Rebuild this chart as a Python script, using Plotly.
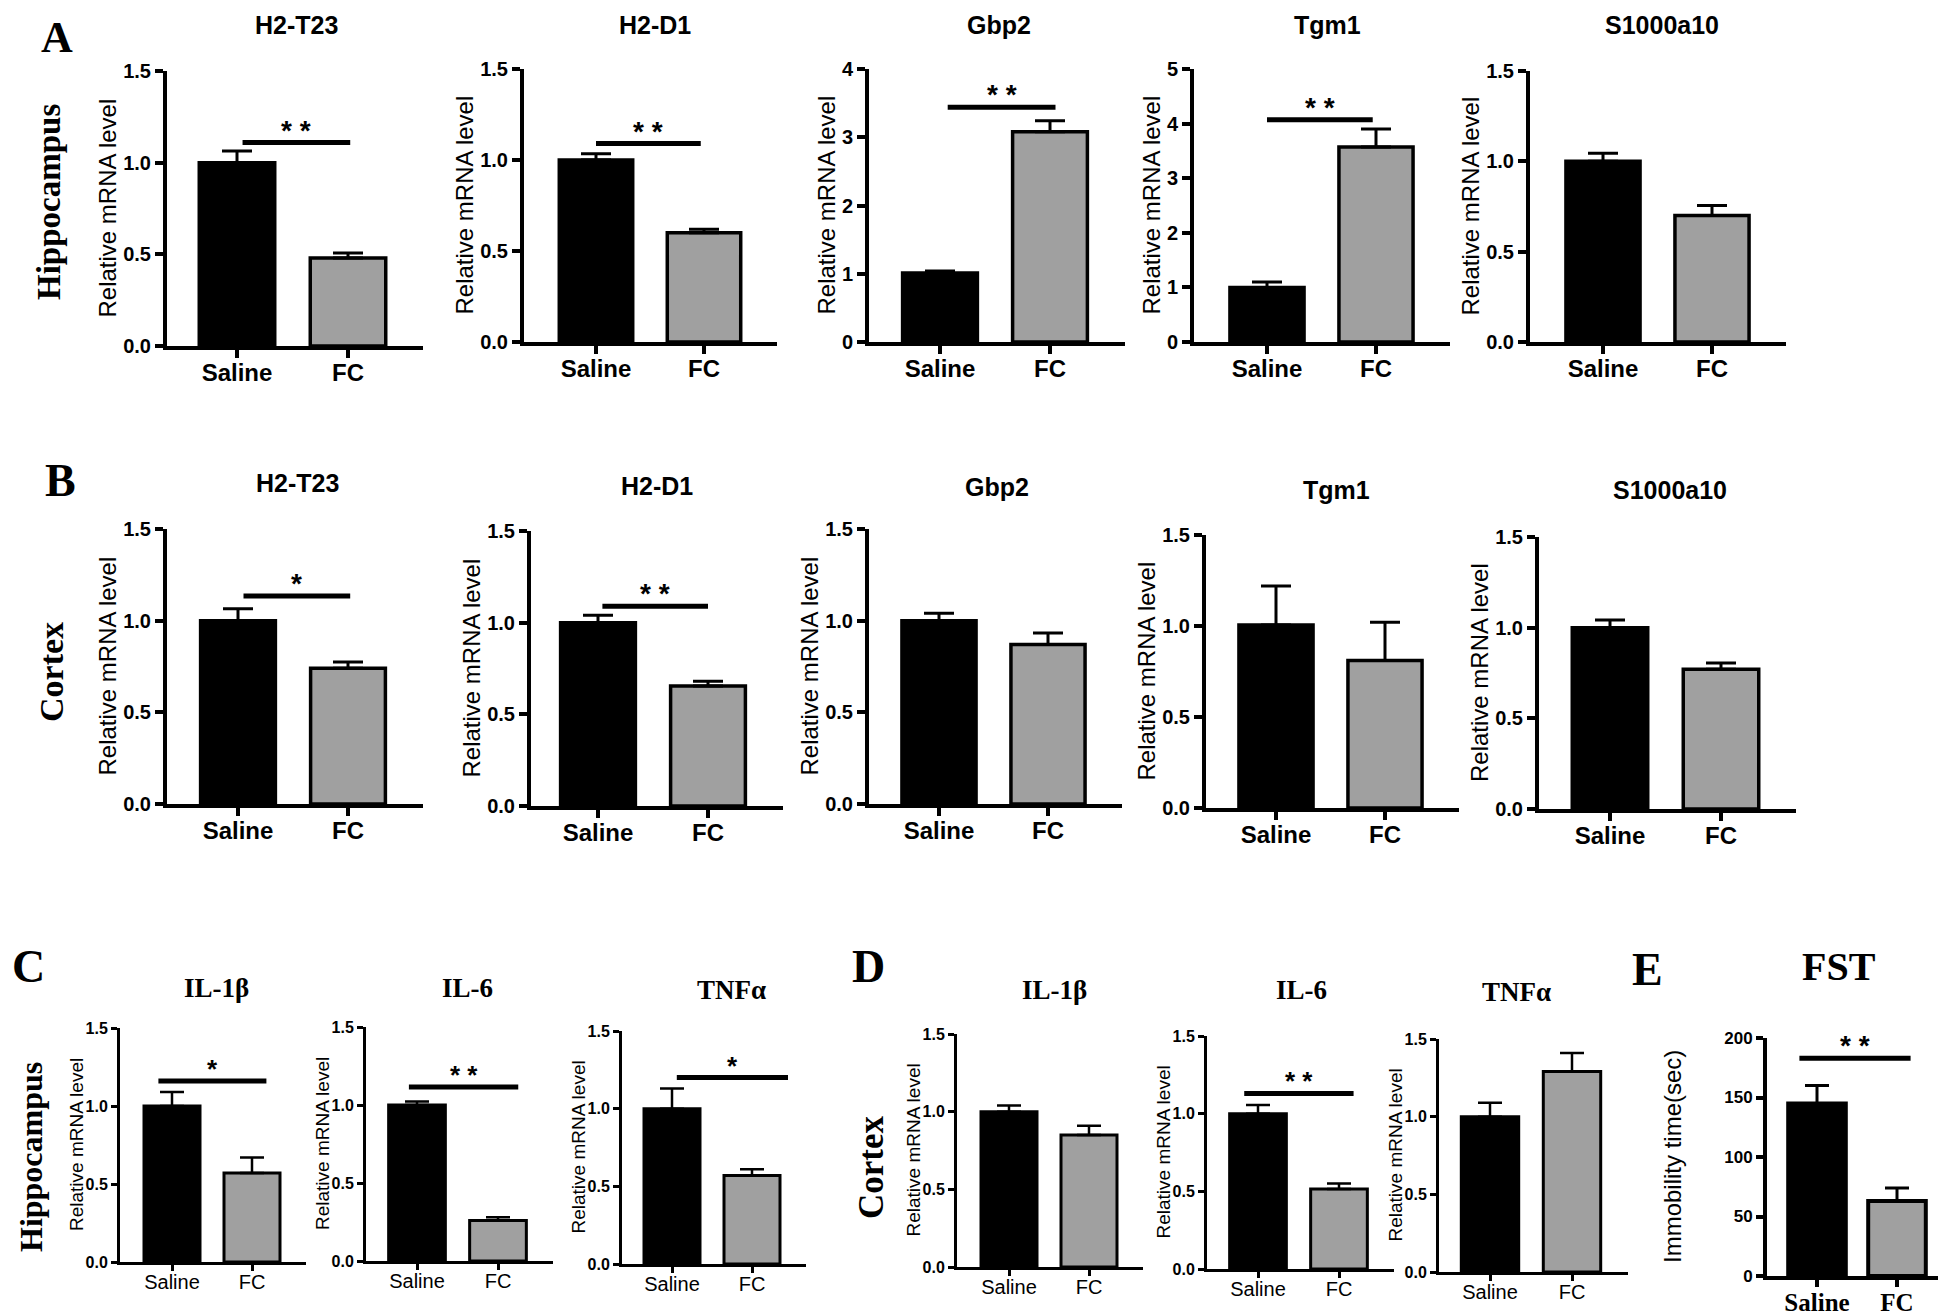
import plotly.graph_objects as go

# ---------------- data ----------------
groups = ["Saline", "FC"]

A_genes = ["H2-T23", "H2-D1", "Gbp2", "Tgm1", "S1000a10"]
A_saline = [1.00, 1.00, 1.01, 1.00, 1.00]
A_saline_err = [0.064, 0.035, 0.03, 0.10, 0.045]
A_fc = [0.48, 0.60, 3.08, 3.57, 0.70]
A_fc_err = [0.027, 0.02, 0.16, 0.33, 0.055]
A_sig = ["* *", "* *", "* *", "* *", ""]
A_sig_y = [1.11, 1.09, 3.44, 4.07, None]
A_ymax = [1.5, 1.5, 4, 5, 1.5]

B_genes = ["H2-T23", "H2-D1", "Gbp2", "Tgm1", "S1000a10"]
B_saline = [1.00, 1.00, 1.00, 1.005, 1.00]
B_saline_err = [0.065, 0.04, 0.04, 0.215, 0.042]
B_fc = [0.74, 0.655, 0.87, 0.81, 0.77]
B_fc_err = [0.035, 0.025, 0.063, 0.21, 0.035]
B_sig = ["*", "* *", "", "", ""]
B_sig_y = [1.135, 1.09, None, None, None]
B_ymax = [1.5, 1.5, 1.5, 1.5, 1.5]

C_genes = ["IL-1β", "IL-6", "TNFα"]
C_saline = [1.00, 1.00, 1.00]
C_saline_err = [0.09, 0.022, 0.13]
C_fc = [0.57, 0.26, 0.57]
C_fc_err = [0.10, 0.02, 0.04]
C_sig = ["*", "* *", "*"]
C_sig_y = [1.16, 1.115, 1.20]

D_genes = ["IL-1β", "IL-6", "TNFα"]
D_saline = [1.00, 1.00, 1.00]
D_saline_err = [0.04, 0.055, 0.09]
D_fc = [0.85, 0.515, 1.29]
D_fc_err = [0.06, 0.035, 0.12]
D_sig = ["", "* *", ""]
D_sig_y = [None, 1.13, None]

E_title = "FST"
E_saline, E_saline_err = 145, 15
E_fc, E_fc_err = 63, 11
E_sig = "* *"
E_sig_y = 183

ticks_15 = [0, 0.5, 1.0, 1.5]
ticks_15_text = ["0.0", "0.5", "1.0", "1.5"]
ticks_4 = [0, 1, 2, 3, 4]
ticks_5 = [0, 1, 2, 3, 4, 5]
ticks_E = [0, 50, 100, 150, 200]

mrna_label = "Relative mRNA level"
fst_label = "Immobility time(sec)"

# ---------------- layout geometry (pixels in 1946x1313) ----------------
W, H = 1946, 1313
DX, DY = -4, -9          # global placement correction
ROT = 9                  # rotated-annotation horizontal correction
# (y-axis x, saline centre x, FC centre x, top tick y, zero y)
geomA = [(163, 233, 344, 72, 347), (520, 592, 700, 70, 343), (865, 936, 1046, 70, 343),
         (1190, 1263, 1372, 70, 343), (1526, 1599, 1708, 72, 343)]
geomB = [(163, 234, 344, 530, 805), (527, 594, 704, 532, 807), (865, 935, 1044, 530, 805),
         (1202, 1272, 1381, 536, 809), (1535, 1606, 1717, 538, 810)]
geomC = [(116, 168, 248, 1029, 1263), (362, 413, 494, 1028, 1262), (618, 668, 748, 1032, 1265)]
geomD = [(953, 1005, 1085, 1035, 1268), (1203, 1254, 1335, 1037, 1270), (1435, 1486, 1568, 1040, 1273)]
geomE = (1763, 1813, 1893, 1039, 1277)

titleA = [(292, 26), (651, 26), (995, 26), (1323, 26), (1658, 26)]
titleB = [(293, 484), (653, 487), (993, 488), (1332, 491), (1666, 491)]
titleC = [(212, 989), (463, 989), (727, 991)]
titleD = [(1050, 991), (1297, 991), (1512, 993)]

sigxA = [(0.05, 1.02), (0.0, 0.97), (0.07, 1.05), (0.0, 0.97), None]
sigxB = [(0.05, 1.02), (0.04, 1.0), None, None, None]
sigxC = [(-0.17, 1.18), (-0.1, 1.25), (0.06, 1.45)]
sigxD = [None, (-0.17, 1.18), None]
sigxE = (-0.22, 1.17)

SANS = "Liberation Sans, Arial, sans-serif"
SERIF = "Liberation Serif, Times New Roman, serif"
GREY = "#A0A0A0"

STYLE_AB = dict(axw=4, tlen=8, ytf=dict(family=SANS, size=20, color="black", weight="bold"),
                xtf=dict(family=SANS, size=24, color="black", weight="bold"), xstand=-6,
                barline=3.5, errt=3, errw=15, bw=0.68, ytsize=24, starsize=28, sigw=5)
STYLE_CD = dict(axw=3, tlen=6, ytf=dict(family=SANS, size=16, color="black", weight="bold"),
                xtf=dict(family=SANS, size=20, color="black"), xstand=-6,
                barline=3, errt=2.5, errw=12, bw=0.70, ytsize=19, starsize=26, sigw=5)
STYLE_E = dict(axw=4, tlen=7, ytf=dict(family=SANS, size=17, color="black", weight="bold"),
               xtf=dict(family=SERIF, size=25, color="black", weight="bold"), xstand=-6,
               barline=4, errt=3, errw=12, bw=0.72, ytsize=24, starsize=28, sigw=5)


def px(x):
    return (x + DX) / W


def py(y):
    return 1 - (y + DY) / H


fig = go.Figure()
annotations = []
shapes = []
layout_axes = {}
counter = [0]


def add_panel(sal, sal_err, fc, fc_err, ymax, tvals, ttext, geom, style,
              sig, sig_y, sigx, ytitle, ytitle_off):
    counter[0] += 1
    i = counter[0]
    xa = "x" if i == 1 else f"x{i}"
    ya = "y" if i == 1 else f"y{i}"
    x0, xs, xf, ytop, ybot = geom
    unit = xf - xs
    xleft = (x0 - xs) / unit
    xright = 1.68
    xend = xs + xright * unit
    fig.add_trace(go.Bar(
        x=[0, 1], y=[sal, fc], width=style["bw"],
        marker=dict(color=["black", GREY], line=dict(color="black", width=style["barline"])),
        error_y=dict(type="data", symmetric=False, array=[sal_err, fc_err], arrayminus=[0, 0],
                     color="black", thickness=style["errt"], width=style["errw"]),
        xaxis=xa, yaxis=ya, showlegend=False, hoverinfo="skip"))
    layout_axes["xaxis" if i == 1 else f"xaxis{i}"] = dict(
        domain=[px(x0), min(px(xend), 1)], anchor=ya, range=[xleft, xright],
        tickvals=[0, 1], ticktext=groups, tickfont=style["xtf"],
        ticklabelstandoff=style["xstand"],
        showline=True, linecolor="black", linewidth=style["axw"],
        ticks="outside", ticklen=style["tlen"], tickwidth=style["axw"], tickcolor="black",
        showgrid=False, zeroline=False, fixedrange=True)
    layout_axes["yaxis" if i == 1 else f"yaxis{i}"] = dict(
        domain=[py(ybot), py(ytop)], anchor=xa, range=[0, ymax],
        tickvals=tvals, ticktext=ttext, tickfont=style["ytf"],
        showline=True, linecolor="black", linewidth=style["axw"],
        ticks="outside", ticklen=style["tlen"], tickwidth=style["axw"], tickcolor="black",
        showgrid=False, zeroline=False, fixedrange=True)
    # y-axis title
    annotations.append(dict(
        x=px(x0 - ytitle_off - ROT), y=py((ytop + ybot) / 2), xref="paper", yref="paper",
        text=ytitle, textangle=-90, showarrow=False, xanchor="center", yanchor="middle",
        font=dict(family=SANS, size=style["ytsize"], color="black")))
    if sig:
        shapes.append(dict(type="line", xref=xa, yref=ya, x0=sigx[0], x1=sigx[1],
                           y0=sig_y, y1=sig_y, line=dict(color="black", width=style["sigw"])))
        annotations.append(dict(
            x=(sigx[0] + sigx[1]) / 2, y=sig_y, xref=xa, yref=ya, text=sig, showarrow=False,
            xanchor="center", yanchor="bottom", yshift=-5,
            font=dict(family=SANS, size=style["starsize"], color="black", weight="bold")))


def title_ann(text, pos, family, size, bold=True):
    annotations.append(dict(x=px(pos[0]), y=py(pos[1]), xref="paper", yref="paper",
                            text=text, showarrow=False, xanchor="center", yanchor="middle",
                            font=dict(family=family, size=size, color="black",
                                      weight="bold" if bold else "normal")))


def side_label(text, pos, size):
    annotations.append(dict(x=px(pos[0] - ROT), y=py(pos[1]), xref="paper", yref="paper",
                            text=text, textangle=-90, showarrow=False, xanchor="center",
                            yanchor="middle",
                            font=dict(family=SERIF, size=size, color="black", weight="bold")))


def yt(ymax):
    if ymax == 4:
        return ticks_4, [str(v) for v in ticks_4], 34
    if ymax == 5:
        return ticks_5, [str(v) for v in ticks_5], 34
    return ticks_15, ticks_15_text, 51


for k in range(5):
    tv, tt, off = yt(A_ymax[k])
    add_panel(A_saline[k], A_saline_err[k], A_fc[k], A_fc_err[k], A_ymax[k], tv, tt,
              geomA[k], STYLE_AB, A_sig[k], A_sig_y[k], sigxA[k], mrna_label, off)
    title_ann(A_genes[k], titleA[k], SANS, 25)
for k in range(5):
    tv, tt, off = yt(B_ymax[k])
    add_panel(B_saline[k], B_saline_err[k], B_fc[k], B_fc_err[k], B_ymax[k], tv, tt,
              geomB[k], STYLE_AB, B_sig[k], B_sig_y[k], sigxB[k], mrna_label, off)
    title_ann(B_genes[k], titleB[k], SANS, 25)
for k in range(3):
    add_panel(C_saline[k], C_saline_err[k], C_fc[k], C_fc_err[k], 1.5, ticks_15, ticks_15_text,
              geomC[k], STYLE_CD, C_sig[k], C_sig_y[k], sigxC[k], mrna_label, 35)
    title_ann(C_genes[k], titleC[k], SERIF, 27)
for k in range(3):
    add_panel(D_saline[k], D_saline_err[k], D_fc[k], D_fc_err[k], 1.5, ticks_15, ticks_15_text,
              geomD[k], STYLE_CD, D_sig[k], D_sig_y[k], sigxD[k], mrna_label, 35)
    title_ann(D_genes[k], titleD[k], SERIF, 27)
add_panel(E_saline, E_saline_err, E_fc, E_fc_err, 200, ticks_E, [str(v) for v in ticks_E],
          geomE, STYLE_E, E_sig, E_sig_y, sigxE, fst_label, 86)
title_ann(E_title, (1835, 967), SERIF, 40)

# panel letters
for letter, pos, size in [("A", (53, 38), 44), ("B", (56, 482), 46), ("C", (24, 967), 46),
                          ("D", (864, 967), 46), ("E", (1643, 970), 46)]:
    title_ann(letter, pos, SERIF, size)

side_label("Hippocampus", (54, 203), 33)
side_label("Cortex", (56, 673), 34)
side_label("Hippocampus", (36, 1158), 32)
side_label("Cortex", (876, 1168), 35)

fig.update_layout(
    width=W, height=H, autosize=False, template="none",
    margin=dict(l=0, r=0, t=0, b=0), paper_bgcolor="white", plot_bgcolor="rgba(0,0,0,0)",
    showlegend=False, annotations=annotations, shapes=shapes, **layout_axes)

fig.write_html("out.html")
